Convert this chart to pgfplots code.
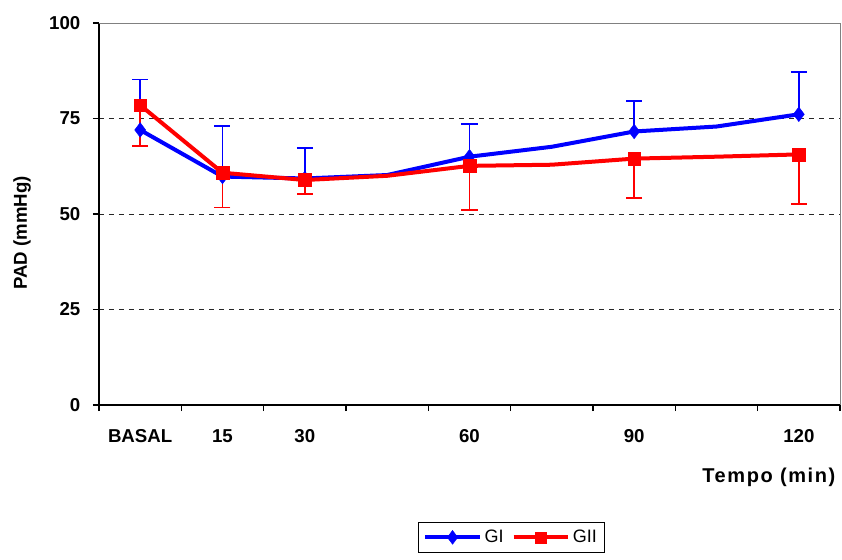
\documentclass[border=0pt]{standalone}
\usepackage{pgfplots}
\pgfplotsset{compat=1.18}
\usepackage{pgfplotstable}
\usepackage{fontspec}
\setmainfont{Liberation Sans}
\definecolor{xlblue}{RGB}{0,0,255}
\definecolor{xlred}{RGB}{255,0,0}

\pgfplotstableread{
x y
0 72.0
1 59.8
2 59.3
3 60.2
4 65.0
5 67.6
6 71.6
7 72.9
8 76.1
}\blueline
\pgfplotstableread{
x y
0 78.5
1 60.8
2 58.9
3 60.0
4 62.6
5 62.9
6 64.5
7 65.0
8 65.6
}\redline
\pgfplotstableread{
x y e
0 72.0 13.2
1 59.8 13.2
2 59.3 8.0
4 65.0 8.6
6 71.6 8.0
8 76.1 11.1
}\bluepts
\pgfplotstableread{
x y e
0 78.5 10.7
1 60.8 9.1
2 58.9 3.7
4 62.6 11.6
6 64.5 10.3
8 65.6 13.0
}\redpts

\begin{document}
\begin{tikzpicture}
\useasboundingbox (-74.25pt,-116.25pt) rectangle (557.25pt,303.75pt);
\begin{axis}[
  at={(0,0)}, anchor=south west,
  scale only axis,
  width=555.75pt, height=286.5pt,
  xmin=-0.5, xmax=8.5, ymin=0, ymax=100,
  axis x line*=bottom, axis y line*=left,
  axis line style={black, line width=0.8pt},
  ytick={0,25,50,75,100},
  xtick={-0.5,0.5,...,8.5},
  xticklabels={},
  extra x ticks={0,1,2,4,6,8},
  extra x tick labels={BASAL,15,30,60,90,120},
  extra x tick style={major tick length=0pt, grid=none},
  tick align=outside,
  major tick length=4.5pt,
  tick style={black, line width=0.8pt},
  ymajorgrids,
  grid style={black!85, dash pattern=on 4pt off 3.5pt, line width=0.6pt},
  /pgf/number format/assume math mode=true,
  tick label style={font=\fontsize{14}{16}\selectfont\bfseries},
  xticklabel style={anchor=center, yshift=-23.5pt},
  yticklabel style={anchor=east, xshift=-6pt},
  ylabel={PAD (mmHg)},
  ylabel style={font=\fontsize{14}{16}\selectfont\bfseries, at={(rel axis cs:0,0.45)}, anchor=center, yshift=57.75pt},
  xlabel={\addfontfeature{LetterSpace=8}Tempo (min)},
  xlabel style={font=\fontsize{15}{17}\selectfont\bfseries, at={(rel axis cs:1,0)}, anchor=east, yshift=-54pt, xshift=0pt},
  legend style={at={(rel axis cs:0.5565,0)}, anchor=north, yshift=-87.5pt,
    draw=black, line width=0.6pt, font=\fontsize{13.5}{16}\selectfont,
    /tikz/every even column/.append style={column sep=4pt}, inner sep=4pt},
  legend columns=2,
  legend image code/.code={\draw[mark repeat=2,mark phase=2,#1] plot coordinates {(0cm,0cm) (0.72cm,0cm) (1.44cm,0cm)};},
  clip=false,
]
\draw[black!50, line width=0.6pt] (rel axis cs:0,1) -- (rel axis cs:1,1) -- (rel axis cs:1,0);
% blue
\addplot[xlblue, line width=3pt, no marks, forget plot] table[x=x,y=y] {\blueline};
\addplot[xlblue, only marks, mark=diamond*, mark size=5.5pt, mark options={fill=xlblue, draw=xlblue, line width=0.3pt}, forget plot,
  error bars/.cd, y dir=plus, y explicit,
  error bar style={xlblue, line width=1.1pt},
  error mark options={rotate=90, mark size=6pt, line width=1.1pt, xlblue}]
  table[x=x,y=y,y error=e] {\bluepts};
% red
\addplot[xlred, line width=3pt, no marks, forget plot] table[x=x,y=y] {\redline};
\addplot[xlred, only marks, mark=square*, mark size=4.8pt, mark options={fill=xlred, draw=xlred, line width=0.3pt}, forget plot,
  error bars/.cd, y dir=minus, y explicit,
  error bar style={xlred, line width=1.1pt},
  error mark options={rotate=90, mark size=6pt, line width=1.1pt, xlred}]
  table[x=x,y=y,y error=e] {\redpts};
\addlegendimage{xlblue, line width=3pt, mark=diamond*, mark size=5.2pt, mark options={fill=xlblue, line width=0.3pt}}
\addlegendentry{GI}
\addlegendimage{xlred, line width=3pt, mark=square*, mark size=4.2pt, mark options={fill=xlred, line width=0.3pt}}
\addlegendentry{GII}
\end{axis}
\end{tikzpicture}
\end{document}
